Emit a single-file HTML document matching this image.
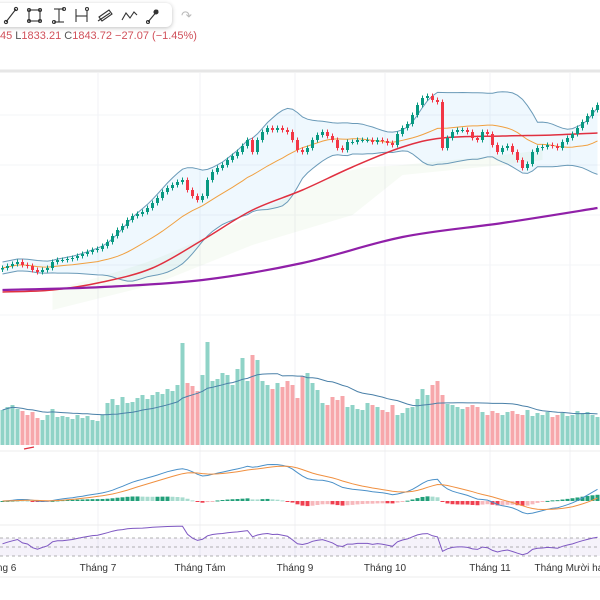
<!DOCTYPE html>
<html><head><meta charset="utf-8"><style>
html,body{margin:0;padding:0;background:#fff;width:600px;height:600px;overflow:hidden;font-family:"Liberation Sans","DejaVu Sans",sans-serif}
#wrap{position:relative;width:600px;height:600px}
#toolbar{position:absolute;left:-8px;top:3px;width:180px;height:24px;background:#fff;border-radius:6px;box-shadow:0 1px 4px rgba(0,0,0,0.25)}
#ohlc{position:absolute;left:0;top:30px;font-size:11px;color:#d0505a;white-space:nowrap}
#ohlc span{color:#555}
svg{position:absolute;left:0;top:0}
</style></head><body>
<div id="wrap">
<svg id="chart" width="600" height="600"></svg>
<div id="toolbar">
<svg width="180" height="24" style="left:0;top:0" stroke="#333" fill="none" stroke-width="1.1">
<g><line x1="14" y1="19" x2="24" y2="6"/><circle cx="14" cy="19" r="1.6"/><circle cx="24" cy="6" r="1.6"/></g>
<g><rect x="37" y="7" width="11" height="11"/><circle cx="37" cy="7" r="1.5"/><circle cx="48" cy="18" r="1.5"/><circle cx="37" cy="18" r="1.5"/><circle cx="48" cy="7" r="1.5"/></g>
<g><line x1="62" y1="6" x2="72" y2="6"/><line x1="67" y1="6" x2="67" y2="19"/><line x1="62" y1="19" x2="72" y2="19"/><circle cx="62" cy="19" r="1.5"/><circle cx="72" cy="6" r="1.5"/></g>
<g><line x1="84" y1="6" x2="84" y2="19"/><line x1="95" y1="8" x2="95" y2="19"/><line x1="84" y1="13" x2="95" y2="13"/><circle cx="95" cy="6" r="1.5"/></g>
<g><path d="M107 14 L117 7 L120 11 L110 18 Z"/><path d="M106 18 L118 10"/></g>
<g><path d="M130 17 L134 10 L138 15 L142 9 L145 12"/></g>
<g><line x1="156" y1="19" x2="166" y2="7"/><circle cx="156" cy="19" r="1.5"/><circle cx="164" cy="9" r="2" fill="#333"/></g>
</svg>
</div>
<div style="position:absolute;left:181px;top:8px;color:#bbb;font-size:13px">↷</div>
<div id="ohlc">45 <span>L</span>1833.21 <span>C</span>1843.72 −27.07 (−1.45%)</div>
</div>
<script>
const closes=[1208,1216,1224,1232,1220,1216,1200,1192,1200,1208,1232,1240,1240,1244,1248,1256,1264,1272,1280,1284,
1296,1312,1336,1360,1376,1400,1416,1424,1432,1448,1468,1488,1512,1528,1540,1552,1560,1520,1496,1480,
1496,1560,1592,1608,1620,1640,1656,1672,1696,1720,1672,1720,1752,1768,1760,1768,1760,1752,1720,1680,
1672,1688,1720,1740,1752,1736,1720,1688,1680,1712,1712,1720,1720,1720,1712,1720,1716,1708,1700,1744,
1768,1784,1820,1860,1888,1896,1880,1872,1688,1728,1752,1760,1760,1752,1728,1720,1752,1744,1700,1672,
1688,1696,1672,1640,1608,1624,1672,1688,1692,1700,1696,1688,1712,1728,1744,1768,1792,1816,1840,1860];
const volumes=[350,380,400,360,340,300,330,270,250,300,360,280,290,280,260,300,270,290,250,240,
300,420,460,400,480,420,430,470,500,460,500,530,510,560,540,600,1020,620,590,540,
700,1030,640,660,720,700,600,760,870,640,900,850,640,600,560,620,580,640,600,470,
690,720,620,550,420,400,480,450,490,380,400,360,350,420,400,380,350,330,400,300,
320,370,380,460,560,500,600,640,500,410,400,380,360,380,400,380,330,300,340,320,
300,330,340,310,300,350,290,320,300,330,280,300,320,290,300,340,320,330,300,280];
const ma200Idx=[0,20,40,60,80,100,119];
const ma200Val=[1120,1132,1160,1228,1332,1388,1448];
const ma50Idx=[0,10,20,30,40,50,60,70,80,88,100,110,119];
const ma50Val=[1112,1120,1152,1208,1320,1440,1520,1612,1692,1728,1736,1740,1748];
const cloudIdx=[10,30,50,60,70,80,90,100,108];
const cloudA=[1120,1240,1420,1520,1600,1620,1640,1660,1680];
const cloudB=[1040,1140,1300,1360,1420,1580,1600,1620,1640];
const monthLabels=["Tháng 6","Tháng 7","Tháng Tám","Tháng 9","Tháng 10","Tháng 11","Tháng Mười hai"];

const NS="http://www.w3.org/2000/svg";
const svg=document.getElementById('chart');
const N=closes.length;
const xOf=i=>i*5+2.5;
const yP=p=>95+(1900-p)/4;
const yV=v=>445-v*0.1;
function el(t,a,parent){const e=document.createElementNS(NS,t);for(const k in a)e.setAttribute(k,a[k]);(parent||svg).appendChild(e);return e;}
function sma(arr,n){return arr.map((_,i)=>{const s=arr.slice(Math.max(0,i-n+1),i+1);return s.reduce((a,b)=>a+b,0)/s.length;});}
function ema(arr,n){const k=2/(n+1);let out=[];arr.forEach((v,i)=>out.push(i?v*k+out[i-1]*(1-k):v));return out;}
function pathFrom(xs,ys){return xs.map((x,i)=>(i?'L':'M')+x.toFixed(1)+' '+ys[i].toFixed(1)).join(' ');}
function smoothPath(xs,ys){let d='M'+xs[0]+' '+ys[0];for(let i=0;i<xs.length-1;i++){
 const x0=xs[Math.max(0,i-1)],y0=ys[Math.max(0,i-1)],x1=xs[i],y1=ys[i],x2=xs[i+1],y2=ys[i+1],x3=xs[Math.min(xs.length-1,i+2)],y3=ys[Math.min(xs.length-1,i+2)];
 const c1x=x1+(x2-x0)/6,c1y=y1+(y2-y0)/6,c2x=x2-(x3-x1)/6,c2y=y2-(y3-y1)/6;
 d+=' C'+c1x.toFixed(1)+' '+c1y.toFixed(1)+' '+c2x.toFixed(1)+' '+c2y.toFixed(1)+' '+x2.toFixed(1)+' '+y2.toFixed(1);}return d;}

const sep1=el('line',{x1:0,y1:71,x2:600,y2:71,stroke:'#e6e6e6','stroke-width':3});


const mgrid=[-2,98,200,295,385,490,570];
mgrid.forEach(gx=>{
 const g=el('line',{x1:gx,y1:73,x2:gx,y2:558,stroke:'#f0f2f6','stroke-width':1});
 
 
});
[115,165,215,265,315].forEach(gy=>{
 const g=el('line',{x1:0,y1:gy,x2:600,y2:gy,stroke:'#f3f4f7','stroke-width':1});
 
 
});
[451,525,577].forEach(sy=>{
 const s=el('line',{x1:0,y1:sy,x2:600,y2:sy,stroke:'#ececec','stroke-width':1});
 
 
});

const cx=cloudIdx.map(xOf);
const cloud=el('path',{d:smoothPath(cx,cloudA.map(yP))+' L'+cx.slice().reverse().map((x,i)=>x+' '+yP(cloudB[cloudB.length-1-i])).join(' L')+' Z',fill:'rgba(140,200,120,0.07)',stroke:'none'});



const ma20=sma(closes,20);
const sd=closes.map((_,i)=>{const s=closes.slice(Math.max(0,i-19),i+1);const m=s.reduce((a,b)=>a+b,0)/s.length;return Math.sqrt(s.reduce((a,b)=>a+(b-m)*(b-m),0)/s.length);});
const up=ma20.map((m,i)=>m+2*Math.max(sd[i],12));
const lo=ma20.map((m,i)=>m-2*Math.max(sd[i],12));
const xs=closes.map((_,i)=>xOf(i));
const band=el('path',{d:pathFrom(xs,up.map(yP))+' L'+xs.slice().reverse().map((x,i)=>x+' '+yP(lo[N-1-i])).join(' L')+' Z',fill:'rgba(33,150,243,0.07)',stroke:'none'});


const bu=el('path',{d:pathFrom(xs,up.map(yP)),fill:'none',stroke:'#6a9ab8','stroke-width':1});


const bl=el('path',{d:pathFrom(xs,lo.map(yP)),fill:'none',stroke:'#6a9ab8','stroke-width':1});


const m20=el('path',{d:pathFrom(xs,ma20.map(yP)),fill:'none',stroke:'#f0a040','stroke-width':1});


const m50=el('path',{d:smoothPath(ma50Idx.map(xOf),ma50Val.map(yP)),fill:'none',stroke:'#e03040','stroke-width':1.5});


const m200=el('path',{d:smoothPath(ma200Idx.map(xOf),ma200Val.map(yP)),fill:'none',stroke:'#9020a8','stroke-width':2.2});



closes.forEach((c,i)=>{
 const o=i?closes[i-1]:c-6;
 const upC=c>=o;
 const col=upC?'#089981':'#f23645';
 const x=xOf(i);
 const w=el('line',{x1:x,y1:yP(Math.max(o,c)+10),x2:x,y2:yP(Math.min(o,c)-10),stroke:col,'stroke-width':1});
 
 
 const top=yP(Math.max(o,c)),bot=yP(Math.min(o,c));
 const r=el('rect',{x:x-1.5,y:top,width:3,height:Math.max(1,bot-top),fill:col});
 
 
});

volumes.forEach((v,i)=>{
 const o=i?closes[i-1]:closes[i]-6;
 const col=closes[i]>=o?'#8fd3c7':'#f7a7ab';
 const b=el('rect',{x:xOf(i)-2,y:yV(v),width:4,height:445-yV(v),fill:col});
 
 
});
const vma=sma(volumes,20);
const vl=el('path',{d:pathFrom(xs,vma.map(yV)),fill:'none',stroke:'#4a80a8','stroke-width':1});


const mk=el('path',{d:'M24 449 L34 447',stroke:'#e03040','stroke-width':1.2,fill:'none'});



const e26=ema(closes,26);
const macd=ema(closes,12).map((v,i)=>v-e26[i]);
const sig=ema(macd,9);
const yM=v=>501-v*0.42;
macd.forEach((m,i)=>{
 const h=m-sig[i];
 const prev=i?macd[i-1]-sig[i-1]:h;
 const col=h>=0?(h>=prev?'#22a07a':'#a8dccf'):(h<=prev?'#f04050':'#f7b8bc');
 const y0=yM(0),y1=501-h*0.3;
 const b=el('rect',{x:xOf(i)-2,y:Math.min(y0,y1),width:4,height:Math.max(1,Math.abs(y1-y0)),fill:col});
 
 
});
const ml=el('path',{d:pathFrom(xs,macd.map(yM)),fill:'none',stroke:'#4a90c8','stroke-width':1});


const sl=el('path',{d:pathFrom(xs,sig.map(yM)),fill:'none',stroke:'#f09040','stroke-width':1});



const yR=r=>556-(r-30)*0.45;
const rb=el('rect',{x:0,y:yR(70),width:600,height:yR(30)-yR(70),fill:'rgba(126,87,194,0.08)'});


[70,50,30].forEach(l=>{
 const d=el('line',{x1:0,y1:yR(l),x2:600,y2:yR(l),stroke:'#999','stroke-width':0.8,'stroke-dasharray':'3 3'});
 
 
});
let ag=0,al=0;const rsi=[];
closes.forEach((c,i)=>{const ch=i?c-closes[i-1]:0;const g=Math.max(ch,0),l=Math.max(-ch,0);
 if(i===0){ag=4;al=3;}else{ag=(ag*13+g)/14;al=(al*13+l)/14;}
 rsi.push(100-100/(1+ag/Math.max(al,0.01)));});
const rl=el('path',{d:pathFrom(xs,rsi.map(yR)),fill:'none',stroke:'#7e57c2','stroke-width':1});



monthLabels.forEach((t,i)=>{
 const tx=el('text',{x:mgrid[i],y:571,'font-size':10,fill:'#333','text-anchor':'middle','font-family':'Liberation Sans, DejaVu Sans, sans-serif'});
 tx.textContent=t;
 
 
});
</script>
</body></html>
